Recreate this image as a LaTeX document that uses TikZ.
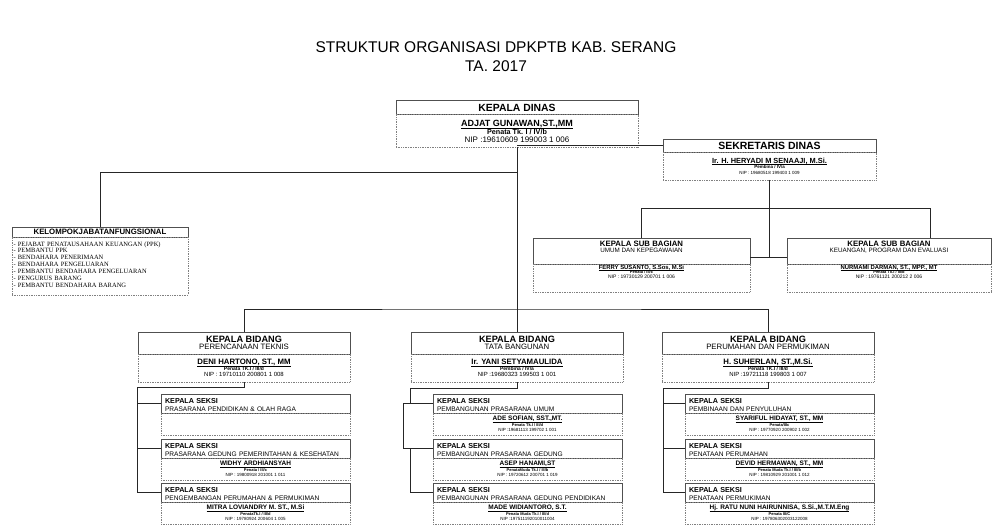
\documentclass[tikz,border=0pt]{standalone}
\usepackage{fontspec}
\setmainfont{Liberation Sans}
\newfontfamily\listfont{Liberation Serif}
\newcommand{\sz}[1]{\fontsize{#1}{#1}\selectfont}
\newcommand{\ulname}[1]{\underline{\raisebox{0pt}[\height][0pt]{#1}}}
\definecolor{boxline}{HTML}{505050}
\definecolor{dotline}{HTML}{808080}
\lineskiplimit=-20pt
\begin{document}
\begin{tikzpicture}[x=1pt,y=-1pt,
    title_text/.style={font=\sz{15.5},inner sep=0pt},
    head_box/.style={draw=boxline,line width=0.7pt,inner sep=0pt,outer sep=0pt,anchor=north west,align=center},
    body_box/.style={draw=dotline,densely dotted,line width=0.7pt,inner sep=0pt,outer sep=0pt,anchor=north west,align=center},
    bid_head/.style={head_box,minimum width=212pt,minimum height=22pt,font=\fontsize{7.8}{7}\selectfont},
    bid_body/.style={body_box,minimum width=212pt,minimum height=28pt,font=\fontsize{6}{6}\selectfont},
    sub_head/.style={head_box,text height=14.9pt,text depth=11.1pt,font=\fontsize{6.3}{6.6}\selectfont},
    sub_body/.style={body_box,text height=14.5pt,text depth=13.5pt,font=\fontsize{5}{4.7}\selectfont},
    kasi_head/.style={head_box,align=left,text width=181pt,inner xsep=4pt,text height=9.6pt,text depth=9.4pt,font=\fontsize{6.6}{8}\selectfont},
    kasi_body/.style={body_box,minimum width=189pt,minimum height=22pt,font=\fontsize{4.5}{5.5}\selectfont},
    org_line/.style={draw=black!85,line width=0.8pt}]
  \useasboundingbox (0,0) rectangle (992,526);
  \node[title_text] (title1) at (496,47) {STRUKTUR ORGANISASI DPKPTB KAB. SERANG};
  \node[title_text] (title2) at (496,66) {TA. 2017};
  % top level
  \node[head_box,minimum width=242pt,text height=12pt,text depth=2pt,font=\bfseries\sz{10.4}] (kadis) at (396,100) {KEPALA DINAS};
  \node[body_box,minimum width=242pt,text height=28.2pt,text depth=4.8pt,font=\fontsize{8}{7.8}\selectfont] (kadis_b) at (kadis.south west)
    {{\sz{9}\bfseries\ulname{ADJAT GUNAWAN,ST.,MM}}\\{\sz{7.2}\bfseries Penata Tk. I / IV/b}\\NIP :19610609 199003 1 006};
  \node[head_box,minimum width=213pt,minimum height=13pt,font=\bfseries\sz{10.5}] (sekdis) at (663,139) {SEKRETARIS DINAS};
  \node[body_box,minimum width=213pt,minimum height=28pt,font=\fontsize{4.5}{5.5}\selectfont] (sekdis_b) at (sekdis.south west)
    {{\sz{7.4}\bfseries\ulname{Ir. H. HERYADI M SENAAJI, M.Si.}}\\{\bfseries Pembina / IV/a}\\NIP : 19680518 199403 1 009};
  \node[head_box,minimum width=176pt,minimum height=10pt,font=\bfseries\sz{7.8}] (fung) at (12,227) {KELOMPOKJABATANFUNGSIONAL};
  \node[body_box,align=left,text width=173pt,inner xsep=1.5pt,text height=9.15pt,text depth=48.85pt,font=\listfont\fontsize{6.5}{6.85}\selectfont] (fung_b) at (fung.south west)
    {- PEJABAT PENATAUSAHAAN KEUANGAN (PPK)\\- PEMBANTU PPK\\- BENDAHARA PENERIMAAN\\- BENDAHARA PENGELUARAN\\- PEMBANTU BENDAHARA PENGELUARAN\\- PENGURUS BARANG\\- PEMBANTU BENDAHARA BARANG};
  % sub bagian
  \node[sub_head,minimum width=217pt] (kasubag1) at (533,238) {{\sz{7.8}\bfseries KEPALA SUB BAGIAN}\\UMUM DAN KEPEGAWAIAN};
  \node[sub_body,minimum width=217pt] (kasubag1_b) at (kasubag1.south west)
    {{\sz{5.9}\bfseries\ulname{FERRY SUSANTO, S.Sos, M.Si}}\\{\sz{4}\bfseries Penata / III/c}\\NIP : 19730129 200701 1 006};
  \node[sub_head,minimum width=204pt] (kasubag2) at (787,238) {{\sz{7.8}\bfseries KEPALA SUB BAGIAN}\\KEUANGAN, PROGRAM DAN EVALUASI};
  \node[sub_body,minimum width=204pt] (kasubag2_b) at (kasubag2.south west)
    {{\sz{5.9}\bfseries\ulname{NURMAMI DARMAN, ST., MPP., MT}}\\{\sz{4}\bfseries Penata Tk.I / III/d}\\NIP : 19761121 200212 2 006};
  % bidang
  \node[bid_head] (kabid1) at (138,332) {{\sz{9.2}\bfseries KEPALA BIDANG}\\PERENCANAAN TEKNIS};
  \node[bid_body] (kabid1_b) at (kabid1.south west)
    {{\sz{7.8}\bfseries\ulname{DENI HARTONO, ST., MM}}\\{\sz{5}\bfseries Penata TK.I / III/d}\\NIP : 19710110 200801 1 008};
  \node[bid_head] (kabid2) at (411,332) {{\sz{9.2}\bfseries KEPALA BIDANG}\\TATA BANGUNAN};
  \node[bid_body] (kabid2_b) at (kabid2.south west)
    {{\sz{7.8}\bfseries\ulname{Ir. YANI SETYAMAULIDA}}\\{\sz{5}\bfseries Pembina / IV/a}\\NIP :19680323 199503 1 001};
  \node[bid_head] (kabid3) at (662,332) {{\sz{9.2}\bfseries KEPALA BIDANG}\\PERUMAHAN DAN PERMUKIMAN};
  \node[bid_body] (kabid3_b) at (kabid3.south west)
    {{\sz{7.8}\bfseries\ulname{H. SUHERLAN, ST.,M.Si.}}\\{\sz{5}\bfseries Penata TK.I / III/d}\\NIP :19721118 199803 1 007};
  % seksi
  \node[kasi_head] (kasi11) at (161,394) {{\sz{7.2}\bfseries KEPALA SEKSI}\\PRASARANA PENDIDIKAN \& OLAH RAGA};
  \node[kasi_body] (kasi11_b) at (kasi11.south west) {};
  \node[kasi_head] (kasi12) at (161,439) {{\sz{7.2}\bfseries KEPALA SEKSI}\\PRASARANA GEDUNG PEMERINTAHAN \& KESEHATAN};
  \node[kasi_body] (kasi12_b) at (kasi12.south west)
    {{\sz{6.5}\bfseries\ulname{WIDHY ARDHIANSYAH}}\\{\sz{4}\bfseries Penata / III/c}\\NIP : 19800918 201001 1 011};
  \node[kasi_head] (kasi13) at (161,483) {{\sz{7.2}\bfseries KEPALA SEKSI}\\PENGEMBANGAN PERUMAHAN \& PERMUKIMAN};
  \node[kasi_body] (kasi13_b) at (kasi13.south west)
    {{\sz{6.5}\bfseries\ulname{MITRA LOVIANDRY M. ST., M.Si}}\\{\sz{4}\bfseries PenataTk.I / III/d}\\NIP : 19780924 200604 1 005};
  \node[kasi_head] (kasi21) at (433,394) {{\sz{7.2}\bfseries KEPALA SEKSI}\\PEMBANGUNAN PRASARANA UMUM};
  \node[kasi_body] (kasi21_b) at (kasi21.south west)
    {{\sz{6.5}\bfseries\ulname{ADE SOFIAN, SST.,MT.}}\\{\sz{4}\bfseries Penata Tk.I / III/d}\\NIP :19681113 199702 1 001};
  \node[kasi_head] (kasi22) at (433,439) {{\sz{7.2}\bfseries KEPALA SEKSI}\\PEMBANGUNAN PRASARANA GEDUNG};
  \node[kasi_body] (kasi22_b) at (kasi22.south west)
    {{\sz{6.5}\bfseries\ulname{ASEP HANAMI,ST}}\\{\sz{4}\bfseries PenataMuda Tk.I / III/b}\\NIP : 19720612 200701 1 019};
  \node[kasi_head] (kasi23) at (433,483) {{\sz{7.2}\bfseries KEPALA SEKSI}\\PEMBANGUNAN PRASARANA GEDUNG PENDIDIKAN};
  \node[kasi_body] (kasi23_b) at (kasi23.south west)
    {{\sz{6.5}\bfseries\ulname{MADE WIDIANTORO, S.T.}}\\{\sz{4}\bfseries Penata Muda Tk.I / III/d}\\NIP :197511192010011004};
  \node[kasi_head] (kasi31) at (685,394) {{\sz{7.2}\bfseries KEPALA SEKSI}\\PEMBINAAN DAN PENYULUHAN};
  \node[kasi_body] (kasi31_b) at (kasi31.south west)
    {{\sz{6.5}\bfseries\ulname{SYARIFUL HIDAYAT, ST., MM}}\\{\sz{4}\bfseries Penata/IIIc}\\NIP : 19770920 200902 1 002};
  \node[kasi_head] (kasi32) at (685,439) {{\sz{7.2}\bfseries KEPALA SEKSI}\\PENATAAN PERUMAHAN};
  \node[kasi_body] (kasi32_b) at (kasi32.south west)
    {{\sz{6.5}\bfseries\ulname{DEVID HERMAWAN, ST., MM}}\\{\sz{4}\bfseries Penata Muda Tk.I / III/b}\\NIP : 19810929 201001 1 012};
  \node[kasi_head] (kasi33) at (685,483) {{\sz{7.2}\bfseries KEPALA SEKSI}\\PENATAAN PERMUKIMAN};
  \node[kasi_body] (kasi33_b) at (kasi33.south west)
    {{\sz{6.5}\bfseries\ulname{Hj. RATU NUNI HAIRUNNISA, S.Si.,M.T.M.Eng}}\\{\sz{4}\bfseries Penata III/C}\\NIP : 197806302003122008};
  % connectors
  \coordinate (fung_jn) at (517,172);
  \coordinate (bid_bus) at (517,309);
  \coordinate (sub_jn) at (768,257);
  \coordinate (sub_bus) at (930,208);
  \coordinate (b1_jn) at (137,387);
  \coordinate (b2_jn) at (410,388);
  \coordinate (b2_brk) at (403,0);
  \coordinate (b3_jn) at (663,388);
  \draw[org_line] (kadis_b.south) -- (kabid2.north);
  \draw[org_line] (sekdis.west) -- (sekdis.west -| kadis_b.south);
  \draw[org_line] (fung_jn) -| (fung.north);
  \draw[org_line] (kabid1.north) |- (bid_bus) -| (kabid3.north);
  \draw[org_line] (sekdis_b.south) -- (sekdis_b.south |- sub_jn);
  \draw[org_line] (sub_jn -| kasubag1.east) -- (sub_jn -| kasubag2.west);
  \draw[org_line] (kasubag1.north) |- (sub_bus) -- (sub_bus |- kasubag2.north);
  \draw[org_line] (kabid1_b.south) |- (b1_jn) |- (kasi13.west);
  \draw[org_line] (kasi11.west -| b1_jn) -- (kasi11.west);
  \draw[org_line] (kasi12.west -| b1_jn) -- (kasi12.west);
  \draw[org_line] (kabid2_b.south) |- (b2_jn) -- (b2_jn |- kasi21.west);
  \draw[org_line] (kasi21.west) -| (b2_brk |- kasi22.west) -- (kasi22.west);
  \draw[org_line] (b2_jn |- kasi22.west) |- (kasi23.west);
  \draw[org_line] (kabid3_b.south) |- (b3_jn) |- (kasi33.west);
  \draw[org_line] (kasi31.west -| b3_jn) -- (kasi31.west);
  \draw[org_line] (kasi32.west -| b3_jn) -- (kasi32.west);
\end{tikzpicture}
\end{document}
